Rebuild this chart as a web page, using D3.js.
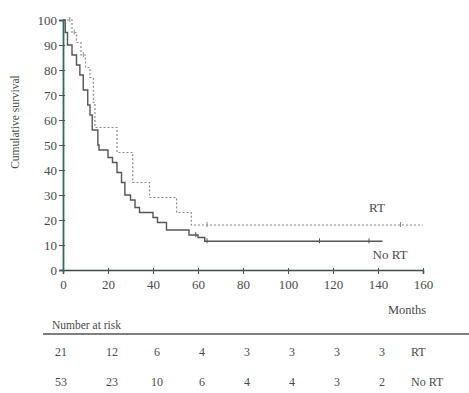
<!DOCTYPE html>
<html>
<head>
<meta charset="utf-8">
<script src="https://cdn.jsdelivr.net/npm/d3@7"></script>
<style>
  body { margin: 0; background: #fff; }
  text { font-family: "Liberation Serif", "DejaVu Serif", serif; fill: #4a4a4a; }
</style>
</head>
<body>
<svg id="chart" width="469" height="393"></svg>
<script>
// step curves: time (months) where survival drops, and the new value (%)
var noRtTime = [0, 1, 2, 4, 6, 7.5, 9, 11, 12, 13, 15.5, 16, 20, 22, 24, 26, 27.5, 30, 32, 34, 40, 42, 46, 56, 60, 63, 142];
var noRtSurv = [100, 95, 90, 86, 82, 78, 72, 66, 62, 56, 50, 48, 45, 43, 39, 35, 30, 28, 25, 23, 21, 19, 16, 14, 13, 11.5, 11.5];
var rtTime = [0, 4, 6, 8, 10, 12, 13.5, 14.2, 24, 31, 38.5, 50.5, 57, 160];
var rtSurv = [100, 95, 91, 86, 81, 77, 67, 57, 47, 35, 29, 23, 18, 18];
// censored observations
var noRtCensor = [59, 64, 114, 136];
var rtCensor = [3, 5, 9, 64, 150];

var xTicks = [0, 20, 40, 60, 80, 100, 120, 140, 160];
var yTicks = [0, 10, 20, 30, 40, 50, 60, 70, 80, 90, 100];
var riskTimes = [0, 20, 40, 60, 80, 100, 120, 140];
var riskRt = [21, 12, 6, 4, 3, 3, 3, 3];
var riskNoRt = [53, 23, 10, 6, 4, 4, 3, 2];

var svg = d3.select("#chart");
var x = d3.scaleLinear().domain([0, 160]).range([63, 423]);
var y = d3.scaleLinear().domain([0, 100]).range([270, 20]);

//surv value just before time t
function survAt(times, surv, t) {
  var v = surv[0];
  for (var i = 0; i < times.length; i++) { if (times[i] <= t) v = surv[i]; }
  return v;
}

var line = d3.line()
    .x(function(d) { return x(d[0]); })
    .y(function(d) { return y(d[1]); })
    .curve(d3.curveStepAfter);

function pairs(t, s) { return t.map(function(d, i) { return [d, s[i]]; }); }

// axes
var xAxis = d3.axisBottom(x).tickValues(xTicks).tickSize(4).tickPadding(6);
var yAxis = d3.axisLeft(y).tickValues(yTicks).tickSize(4).tickPadding(2);

var gx = svg.append("g")
    .attr("transform", "translate(0,270)")
    .call(xAxis);
gx.select(".domain").attr("stroke", "#3f4a49").attr("stroke-width", 1.6);
gx.selectAll(".tick line").attr("stroke", "#555").attr("y1", -2);
gx.selectAll("text").style("font-size", "13px").attr("fill", "#4a4a4a");

var gy = svg.append("g")
    .attr("transform", "translate(63,0)")
    .call(yAxis);
gy.select(".domain").attr("stroke", "#2e6b62").attr("stroke-width", 1.8);
gy.selectAll(".tick line").attr("stroke", "#555").attr("x2", 2).attr("x1", -4);
gy.selectAll("text").style("font-size", "13px").attr("fill", "#4a4a4a");

svg.append("text")
    .attr("transform", "translate(19,122) rotate(-90)")
    .attr("text-anchor", "middle")
    .style("font-size", "11.5px")
    .text("Cumulative survival");

svg.append("text")
    .attr("x", 407).attr("y", 314)
    .attr("text-anchor", "middle")
    .style("font-size", "12.5px")
    .text("Months");

// curves
svg.append("path")
    .datum(pairs(rtTime, rtSurv))
    .attr("d", line)
    .attr("fill", "none")
    .attr("stroke", "#8a8a8a")
    .attr("stroke-width", 1.2)
    .attr("stroke-dasharray", "2,2");

svg.append("path")
    .datum(pairs(noRtTime, noRtSurv))
    .attr("d", line)
    .attr("fill", "none")
    .attr("stroke", "#555")
    .attr("stroke-width", 1.4);

svg.selectAll(".cens-rt")
    .data(rtCensor)
    .enter().append("line")
    .attr("class", "cens-rt")
    .attr("x1", function(d) { return x(d); })
    .attr("x2", function(d) { return x(d); })
    .attr("y1", function(d) { return y(survAt(rtTime, rtSurv, d)) - 3; })
    .attr("y2", function(d) { return y(survAt(rtTime, rtSurv, d)) + 2; })
    .attr("stroke", "#8a8a8a");

svg.selectAll(".cens-nort")
    .data(noRtCensor)
    .enter().append("line")
    .attr("class", "cens-nort")
    .attr("x1", function(d) { return x(d); })
    .attr("x2", function(d) { return x(d); })
    .attr("y1", function(d) { return y(survAt(noRtTime, noRtSurv, d)) - 3; })
    .attr("y2", function(d) { return y(survAt(noRtTime, noRtSurv, d)) + 2; })
    .attr("stroke", "#555");

svg.append("text").attr("x", 377).attr("y", 212)
    .attr("text-anchor", "middle").style("font-size", "13px").text("RT");
svg.append("text").attr("x", 390).attr("y", 259)
    .attr("text-anchor", "middle").style("font-size", "13px").text("No RT");

// number at risk table
svg.append("text").attr("x", 52).attr("y", 329)
    .style("font-size", "11.5px").text("Number at risk");
svg.append("line")
    .attr("x1", 43).attr("x2", 469).attr("y1", 334).attr("y2", 334)
    .attr("stroke", "#555").attr("stroke-width", 1.3);

svg.selectAll(".risk-rt")
    .data(riskRt)
    .enter().append("text")
    .attr("class", "risk-rt")
    .attr("x", function(d, i) { return x(riskTimes[i]) + (i == 0 ? -2 : 4); })
    .attr("y", 356)
    .attr("text-anchor", "middle")
    .style("font-size", "12px")
    .text(function(d) { return d; });
svg.selectAll(".risk-nort")
    .data(riskNoRt)
    .enter().append("text")
    .attr("class", "risk-nort")
    .attr("x", function(d, i) { return x(riskTimes[i]) + (i == 0 ? -2 : 4); })
    .attr("y", 386)
    .attr("text-anchor", "middle")
    .style("font-size", "12px")
    .text(function(d) { return d; });

svg.append("text").attr("x", 411).attr("y", 356).style("font-size", "12px").text("RT");
svg.append("text").attr("x", 411).attr("y", 386).style("font-size", "12px").text("No RT");
</script>
</body>
</html>
